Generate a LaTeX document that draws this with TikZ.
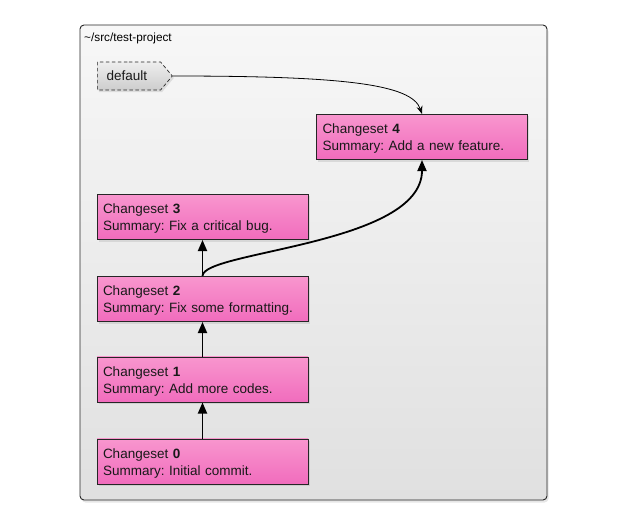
\documentclass[tikz,border=0pt]{standalone}
\usepackage{fontspec}
\setmainfont{Liberation Sans}
\usetikzlibrary{shapes.symbols,shadows,arrows.meta}
\definecolor{pinktop}{RGB}{248,150,206}
\definecolor{pinkbot}{RGB}{241,108,189}
\definecolor{boxtop}{RGB}{247,247,247}
\definecolor{boxbot}{RGB}{224,224,224}
\definecolor{tagtop}{RGB}{238,238,238}
\definecolor{tagbot}{RGB}{205,205,205}
\tikzset{
  csbox/.style={draw=black!85, line width=0.7pt, top color=pinktop, bottom color=pinkbot,
    minimum width=211pt, minimum height=44pt, text width=199pt, align=left,
    inner sep=6pt, text height=13.5pt, font=\fontsize{13.5}{17}\selectfont\frenchspacing, text=black!90,
    drop shadow={opacity=0.2, shadow xshift=1.5pt, shadow yshift=-2pt}},
  container/.style={draw=black!85, line width=0.9pt, rounded corners=4pt, top color=boxtop, bottom color=boxbot,
    drop shadow={opacity=0.2, shadow xshift=1.5pt, shadow yshift=-2.5pt}},
  tagnode/.style={signal, signal to=east, signal pointer angle=100, draw=black!85,
    dash pattern=on 3.5pt off 2.5pt,
    line width=0.7pt, top color=tagtop, bottom color=tagbot, minimum width=75pt, minimum height=28pt,
    inner sep=0pt, font=\fontsize{13.5}{16}\selectfont, text=black!90,
    drop shadow={opacity=0.2, shadow xshift=1.5pt, shadow yshift=-2pt}},
  parentedge/.style={line width=1.8pt, -{Triangle[length=11pt,width=9pt]}},
  tagedge/.style={line width=0.8pt, -{Stealth[length=8pt,width=6pt]}},
}
\begin{document}
\begin{tikzpicture}[x=1pt,y=-1pt]
\useasboundingbox (0,0) rectangle (625,525);
\node[container, minimum width=467pt, minimum height=475pt, inner sep=0pt] (proj) at (313.5,262.5) {};
\node[anchor=west, font=\fontsize{11.8}{14}\selectfont, inner sep=0pt] (projlabel) at (84,38) {\textasciitilde/src/test-project};
\node[tagnode, anchor=west] (tag) at (97,76) {\hspace*{-4pt}default};
\node[csbox] (cs4) at (422,137) {Changeset \textbf{4}\\Summary: Add a new feature.};
\node[csbox] (cs3) at (202.5,217) {Changeset \textbf{3}\\Summary: Fix a critical bug.};
\node[csbox] (cs2) at (202.5,299) {Changeset \textbf{2}\\Summary: Fix some formatting.};
\node[csbox] (cs1) at (202.5,379.5) {Changeset \textbf{1}\\Summary: Add more codes.};
\node[csbox] (cs0) at (202.5,461.5) {Changeset \textbf{0}\\Summary: Initial commit.};
\draw[parentedge] (cs0) -- (cs1);
\draw[parentedge] (cs1) -- (cs2);
\draw[parentedge] (cs2) -- (cs3);
\draw[parentedge] (cs2.north) .. controls +(0,-25) and +(0,85) .. (cs4.south);
\draw[tagedge] (tag.east) .. controls +(170,0) and +(-10,-30) .. (cs4.north);
\end{tikzpicture}
\end{document}
